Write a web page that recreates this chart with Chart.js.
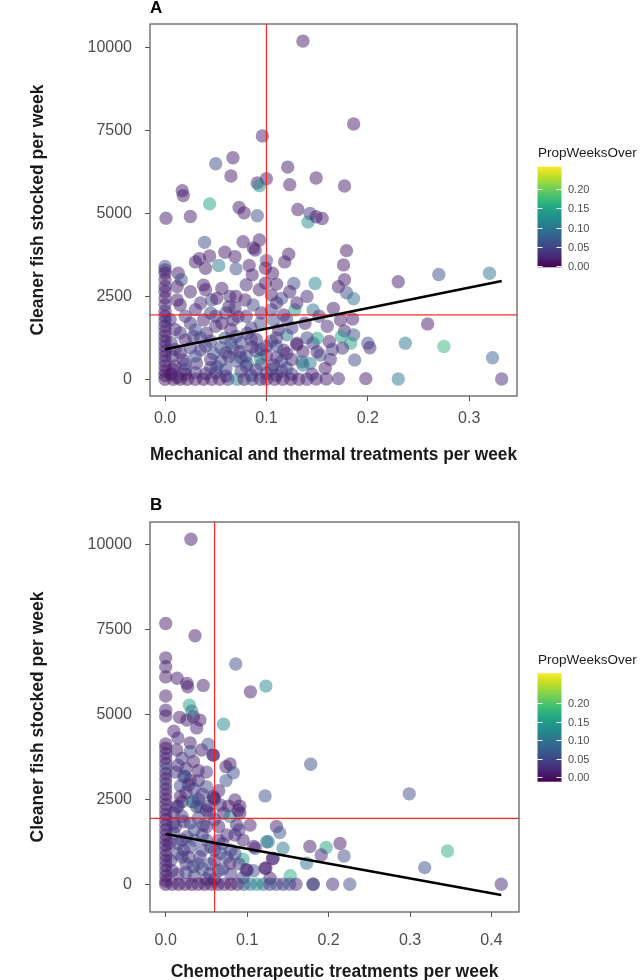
<!DOCTYPE html>
<html>
<head>
<meta charset="utf-8">
<script src="https://cdn.jsdelivr.net/npm/chart.js@4.4.1/dist/chart.umd.min.js"></script>
<style>
  html, body { margin: 0; padding: 0; background: #fff; overflow: hidden; }
  .panel { position: absolute; left: 0; width: 641px; height: 490px; }
</style>
</head>
<body>
<div class="panel" style="top:0"><canvas id="chartA" width="641" height="490"></canvas></div>
<div class="panel" style="top:490px"><canvas id="chartB" width="641" height="490"></canvas></div>
<script>
// [treatments per week, cleaner fish stocked per week, PropWeeksOver]
const mechanical = [
  [0.136, 10200, 0.02], [0.186, 7700, 0.02], [0.096, 7340, 0.02], [0.067, 6680, 0.02], [0.050, 6500, 0.06],
  [0.065, 6130, 0.02], [0.100, 6050, 0.02], [0.091, 5920, 0.02], [0.093, 5840, 0.13], [0.121, 6400, 0.02],
  [0.123, 5870, 0.02], [0.149, 6070, 0.02], [0.177, 5830, 0.02], [0.017, 5690, 0.02], [0.018, 5540, 0.02],
  [0.044, 5290, 0.15], [0.001, 4860, 0.02], [0.025, 4910, 0.02], [0.073, 5180, 0.02], [0.078, 5020, 0.02],
  [0.091, 4930, 0.06], [0.131, 5120, 0.02], [0.143, 5000, 0.04], [0.141, 4740, 0.13], [0.149, 4900, 0.02],
  [0.155, 4850, 0.02], [0.039, 4130, 0.06], [0.077, 4150, 0.02], [0.093, 4200, 0.02], [0.087, 3960, 0.02],
  [0.089, 3900, 0.02], [0.059, 3830, 0.02], [0.122, 3770, 0.02], [0.118, 3540, 0.02], [0.100, 3580, 0.05],
  [0.069, 3700, 0.02], [0.044, 3720, 0.02], [0.034, 3640, 0.02], [0.030, 3540, 0.02], [0.040, 3350, 0.02],
  [0.053, 3430, 0.11], [0.070, 3330, 0.06], [0.083, 3430, 0.02], [0.086, 3150, 0.02], [0.099, 3350, 0.02],
  [0.106, 3200, 0.02], [0.110, 2870, 0.02], [0.127, 2890, 0.06], [0.148, 2890, 0.12], [0.179, 3880, 0.02],
  [0.176, 3450, 0.02], [0.177, 3000, 0.02], [0.171, 2790, 0.02], [0.179, 2610, 0.06], [0.186, 2430, 0.10],
  [0.230, 2940, 0.02], [0.270, 3160, 0.06], [0.320, 3200, 0.10], [0.259, 1670, 0.02], [0.275, 990, 0.17],
  [0.237, 1090, 0.10], [0.200, 1090, 0.06], [0.202, 950, 0.03], [0.323, 650, 0.08], [0.332, 10, 0.03],
  [0.230, 10, 0.10], [0.198, 20, 0.02], [0.171, 20, 0.03], [0.166, 2140, 0.02], [0.173, 1790, 0.02],
  [0.185, 1820, 0.02], [0.177, 1460, 0.02], [0.186, 1340, 0.06], [0.174, 1290, 0.15], [0.183, 1090, 0.15],
  [0.175, 940, 0.03], [0.187, 580, 0.06], [0.162, 1140, 0.02], [0.146, 2090, 0.10], [0.146, 1090, 0.04],
  [0.153, 730, 0.06], [0.143, 480, 0.10], [0.158, 330, 0.02], [0.136, 430, 0.10], [0.149, 10, 0.02],
  [0.159, 10, 0.02], [0.136, 830, 0.02], [0.130, 1090, 0.02], [0.120, 780, 0.02], [0.120, 330, 0.05],
  [0.013, 3200, 0.02], [0.016, 3000, 0.06], [0.012, 2390, 0.02], [0.025, 2640, 0.02], [0.015, 2240, 0.02],
  [0.038, 2840, 0.02], [0.046, 2390, 0.06], [0.051, 2440, 0.02], [0.056, 2740, 0.02], [0.063, 2190, 0.02],
  [0.069, 2140, 0.03], [0.079, 2390, 0.02], [0.087, 2240, 0.06], [0.072, 1890, 0.03], [0.105, 2540, 0.02],
  [0.115, 2440, 0.06], [0.123, 2640, 0.02], [0.128, 2090, 0.14], [0.117, 1940, 0.02], [0.138, 1690, 0.02],
  [0.025, 1690, 0.03], [0.030, 1490, 0.06], [0.038, 1790, 0.02], [0.041, 1390, 0.03], [0.020, 1190, 0.02],
  [0.056, 1690, 0.02], [0.067, 1790, 0.03], [0.059, 1240, 0.06], [0.081, 1390, 0.03], [0.094, 1690, 0.06],
  [0.086, 980, 0.02], [0.107, 1790, 0.06], [0.112, 1490, 0.02], [0.120, 1340, 0.10], [0.130, 1040, 0.02],
  [0.117, 880, 0.02], [0.035, 880, 0.03], [0.048, 780, 0.06], [0.067, 930, 0.06], [0.074, 830, 0.02],
  [0.100, 730, 0.02], [0.018, 580, 0.02], [0.031, 480, 0.03], [0.051, 380, 0.06], [0.063, 680, 0.02],
  [0.081, 480, 0.10], [0.094, 630, 0.14], [0.107, 430, 0.02], [0.135, 530, 0.10], [0.150, 830, 0.03],
  [0.150, 1240, 0.15], [0.045, 1150, 0.04], [0.055, 950, 0.05], [0.065, 1500, 0.03], [0.075, 1100, 0.05],
  [0.085, 1550, 0.04], [0.090, 1200, 0.03], [0.095, 900, 0.05], [0.105, 1150, 0.04], [0.110, 650, 0.03],
  [0.025, 950, 0.04], [0.035, 1250, 0.05], [0.045, 600, 0.03], [0.060, 300, 0.05], [0.075, 250, 0.04],
  [0.090, 280, 0.03], [0.100, 180, 0.05], [0.115, 250, 0.04], [0.125, 600, 0.03], [0.020, 280, 0.03],
  [0.030, 200, 0.04], [0.040, 170, 0.03], [0.050, 200, 0.04], [0.070, 550, 0.06], [0.080, 700, 0.05],
  [0.110, 1000, 0.05], [0.125, 1550, 0.04], [0.140, 1250, 0.05], [0.095, 2000, 0.03], [0.060, 2000, 0.04],
  [0.030, 2100, 0.03], [0.045, 2000, 0.05], [0.105, 2100, 0.05], [0.040, 2700, 0.02], [0.064, 2500, 0.03],
  [0.093, 2700, 0.02], [0.099, 2900, 0.02], [0.080, 2850, 0.03], [0.020, 1900, 0.04], [0.010, 1500, 0.03],
  [0.010, 900, 0.03], [0.010, 400, 0.02], [0.012, 2800, 0.02], [0.130, 2300, 0.02], [0.140, 2500, 0.03],
  [0.152, 1900, 0.04], [0.160, 1600, 0.03], [0.165, 900, 0.04], [0.163, 600, 0.03], [0.145, 150, 0.03],
  [0.005, 1800, 0.03], [0.006, 1100, 0.04], [0.007, 700, 0.03], [0.008, 300, 0.02], [0.015, 1400, 0.04],
  [0.015, 800, 0.03], [0.020, 450, 0.05], [0.028, 1300, 0.04], [0.030, 700, 0.06], [0.040, 1000, 0.05],
  [0.045, 350, 0.04], [0.050, 1600, 0.03], [0.055, 550, 0.05], [0.060, 800, 0.04], [0.065, 1100, 0.06],
  [0.070, 1300, 0.04], [0.075, 650, 0.05], [0.080, 400, 0.04], [0.085, 1200, 0.05], [0.090, 850, 0.04],
  [0.095, 450, 0.06], [0.100, 1000, 0.04], [0.105, 300, 0.05], [0.110, 1250, 0.04], [0.115, 550, 0.05],
  [0.020, 150, 0.03], [0.060, 100, 0.04], [0.085, 120, 0.03], [0.110, 120, 0.04], [0.125, 150, 0.05],
  [0.035, 2300, 0.03], [0.050, 1900, 0.04], [0.080, 1900, 0.03], [0.070, 2500, 0.02], [0.110, 2300, 0.03],
  [0.120, 1800, 0.04],
  [0, 3400, 0.06], [0, 3300, 0.03], [0, 3200, 0.02], [0, 3000, 0.02], [0, 2800, 0.02],
  [0, 2650, 0.02], [0, 2450, 0.02], [0, 2250, 0.02], [0, 2050, 0.03], [0, 1900, 0.02],
  [0, 1750, 0.04], [0, 1600, 0.02], [0, 1450, 0.03], [0, 1300, 0.02], [0, 1150, 0.02],
  [0, 1000, 0.03], [0, 850, 0.02], [0, 700, 0.02], [0, 550, 0.03], [0, 400, 0.02],
  [0, 250, 0.02], [0, 120, 0.02], [0, 0, 0.01], [0.008, 0, 0.02], [0.015, 0, 0.02],
  [0.022, 0, 0.01], [0.030, 0, 0.02], [0.038, 0, 0.01], [0.046, 0, 0.02], [0.054, 0, 0.02],
  [0.062, 0, 0.03], [0.071, 0, 0.11], [0.078, 0, 0.02], [0.086, 0, 0.06], [0.094, 0, 0.02],
  [0.100, 0, 0.03], [0.108, 0, 0.02], [0.116, 0, 0.02], [0.124, 0, 0.02], [0.132, 0, 0.02],
  [0.140, 0, 0.03], [0.006, 150, 0.01], [0.012, 60, 0.02]
];

const chemotherapeutic = [
  [0.031, 10150, 0.02], [0, 7670, 0.02], [0.036, 7310, 0.02], [0, 6660, 0.02], [0, 6400, 0.02],
  [0, 6100, 0.02], [0.014, 6060, 0.02], [0.026, 5910, 0.02], [0.027, 5810, 0.02], [0.046, 5850, 0.02],
  [0.086, 6480, 0.06], [0.104, 5660, 0.02], [0.123, 5830, 0.12], [0, 5540, 0.02], [0.029, 5270, 0.15],
  [0, 5120, 0.02], [0, 4950, 0.02], [0.017, 4910, 0.02], [0.026, 4830, 0.02], [0.034, 4930, 0.02],
  [0.042, 4830, 0.02], [0.032, 5100, 0.10], [0.071, 4710, 0.12], [0, 4130, 0.02], [0.0135, 3950, 0.02],
  [0.030, 4160, 0.02], [0.044, 3950, 0.02], [0.052, 4120, 0.06], [0.058, 3800, 0.02], [0.034, 3610, 0.02],
  [0.040, 3340, 0.02], [0.022, 3170, 0.06], [0.030, 3060, 0.02], [0.050, 2870, 0.06], [0.074, 3460, 0.02],
  [0.079, 3540, 0.02], [0.083, 3280, 0.06], [0.074, 3050, 0.06], [0.178, 3530, 0.06], [0.122, 2600, 0.06],
  [0.299, 2660, 0.06], [0.059, 2530, 0.02], [0.085, 2480, 0.02], [0.077, 2300, 0.02], [0.091, 2300, 0.02],
  [0.034, 2430, 0.08], [0.042, 2280, 0.10], [0.018, 2580, 0.02], [0.0135, 2280, 0.02], [0.050, 2180, 0.02],
  [0.071, 2090, 0.02], [0.079, 1990, 0.12], [0.091, 2090, 0.02], [0.136, 1700, 0.02], [0.140, 1520, 0.07],
  [0.1035, 1740, 0.02], [0.124, 1250, 0.10], [0.144, 1060, 0.10], [0.177, 1110, 0.02], [0.197, 1080, 0.15],
  [0.214, 1200, 0.02], [0.191, 860, 0.03], [0.219, 830, 0.06], [0.173, 620, 0.10], [0.131, 760, 0.02],
  [0.123, 470, 0.02], [0.108, 1110, 0.02], [0.095, 740, 0.15], [0.100, 420, 0.02], [0.108, 400, 0.06],
  [0.128, 180, 0.02], [0.153, 250, 0.16], [0.318, 490, 0.06], [0.346, 980, 0.16], [0.412, 0, 0.03],
  [0.0094, 1790, 0.02], [0.022, 1840, 0.03], [0.046, 1740, 0.02], [0.065, 1700, 0.02], [0.087, 1740, 0.02],
  [0.026, 1400, 0.03], [0.050, 1300, 0.05], [0.075, 1450, 0.03], [0.095, 1300, 0.02], [0.126, 1250, 0.10],
  [0.022, 1010, 0.03], [0.042, 810, 0.04], [0.067, 910, 0.06], [0.079, 620, 0.02], [0.034, 520, 0.06],
  [0.054, 320, 0.03], [0.099, 420, 0.02], [0.122, 470, 0.02], [0.110, 1060, 0.03], [0.132, 760, 0.03],
  [0.038, 2280, 0.03], [0.0585, 2580, 0.02], [0.067, 2330, 0.03], [0.089, 2180, 0.02], [0.054, 2090, 0.03],
  [0.020, 2430, 0.02], [0.032, 2430, 0.10], [0.024, 3180, 0.06], [0.028, 2920, 0.02], [0.0586, 3800, 0.02],
  [0.010, 1500, 0.04], [0.015, 1200, 0.05], [0.020, 800, 0.04], [0.030, 1100, 0.05], [0.035, 1600, 0.06],
  [0.040, 1950, 0.05], [0.045, 1450, 0.04], [0.055, 1100, 0.05], [0.060, 700, 0.04], [0.065, 1300, 0.03],
  [0.070, 450, 0.05], [0.080, 1000, 0.04], [0.085, 1450, 0.03], [0.090, 600, 0.04], [0.045, 450, 0.06],
  [0.025, 600, 0.04], [0.015, 300, 0.03], [0.035, 250, 0.04], [0.060, 150, 0.05], [0.010, 2100, 0.03],
  [0.025, 2700, 0.02], [0.045, 2650, 0.04], [0.015, 3500, 0.03], [0.010, 4500, 0.02], [0.038, 4600, 0.02],
  [0.030, 3900, 0.05], [0.012, 3300, 0.04], [0.018, 2900, 0.05], [0.040, 3050, 0.03], [0.065, 2750, 0.02],
  [0.052, 2300, 0.03],
  [0.005, 1200, 0.03], [0.006, 700, 0.04], [0.008, 400, 0.03], [0.012, 1700, 0.04], [0.015, 900, 0.05],
  [0.020, 2000, 0.04], [0.020, 1300, 0.04], [0.025, 350, 0.05], [0.028, 800, 0.04], [0.030, 1800, 0.05],
  [0.035, 1300, 0.06], [0.040, 600, 0.05], [0.040, 2500, 0.04], [0.045, 1000, 0.05], [0.050, 1700, 0.04],
  [0.050, 150, 0.04], [0.055, 600, 0.05], [0.060, 1000, 0.04], [0.065, 400, 0.05], [0.070, 1200, 0.04],
  [0.075, 800, 0.05], [0.080, 300, 0.04], [0.085, 900, 0.05], [0.090, 1600, 0.04], [0.095, 200, 0.05],
  [0.015, 2300, 0.04], [0.025, 3400, 0.04], [0.035, 2800, 0.05], [0.020, 3700, 0.04], [0.050, 3300, 0.04],
  [0.060, 2500, 0.04], [0.015, 4300, 0.03], [0.060, 1900, 0.04],
  [0, 4000, 0.02], [0, 3850, 0.02], [0, 3700, 0.03], [0, 3550, 0.02],
  [0, 3400, 0.06], [0, 3250, 0.03], [0, 3100, 0.02], [0, 2950, 0.04], [0, 2800, 0.02],
  [0, 2650, 0.03], [0, 2500, 0.02], [0, 2350, 0.02], [0, 2200, 0.03], [0, 2050, 0.02],
  [0, 1900, 0.02], [0, 1750, 0.03], [0, 1600, 0.02], [0, 1450, 0.03], [0, 1300, 0.02],
  [0, 1150, 0.02], [0, 1000, 0.03], [0, 850, 0.02], [0, 700, 0.02], [0, 550, 0.03],
  [0, 400, 0.02], [0, 250, 0.02], [0, 100, 0.02], [0, 0, 0.01], [0.008, 0, 0.02],
  [0.016, 0, 0.01], [0.024, 0, 0.02], [0.032, 0, 0.01], [0.040, 0, 0.02], [0.048, 0, 0.01],
  [0.056, 0, 0.02], [0.064, 0, 0.01], [0.072, 0, 0.02], [0.080, 0, 0.01], [0.088, 0, 0.02],
  [0.096, 0, 0.06], [0.104, 0, 0.10], [0.112, 0, 0.12], [0.120, 0, 0.10], [0.128, 0, 0.04],
  [0.136, 0, 0.06], [0.144, 0, 0.04], [0.152, 0, 0.06], [0.160, 0, 0.03], [0.181, 0, 0.10],
  [0.181, 0, 0.02], [0.205, 0, 0.03], [0.226, 0, 0.06]
];

// linear fits (start and end of the black line)
const mechanicalFit = [[0, 905], [0.332, 2965]];
const chemotherapeuticFit = [[0, 1480], [0.412, -314]];

// red reference lines
const stockedRef = 1940;
const mechanicalRef = 0.1;
const chemotherapeuticRef = 0.06;

const yTicks = [0, 2500, 5000, 7500, 10000];
const mechanicalTicks = [0, 0.1, 0.2, 0.3];
const chemotherapeuticTicks = [0, 0.1, 0.2, 0.3, 0.4];
const legendTicks = [0, 0.05, 0.1, 0.15, 0.2];
const legendTitle = "PropWeeksOver";
const PROP_MAX = 0.26;

const FONT = "'Liberation Sans', Arial, sans-serif";
const viridisStops = ["#440154", "#482576", "#414487", "#35608d", "#2a788e", "#21908c",
                      "#22a884", "#43bf71", "#7ad151", "#bbdf27", "#fde725"];

function hexToRgb(h) {
    return [1, 3, 5].map((i) => parseInt(h.slice(i, i + 2), 16));
}

function viridis(t, alpha) {
    t = Math.min(1, Math.max(0, t));
    const s = t * 10;
    const i = Math.min(9, Math.floor(s));
    const f = s - i;
    const a = hexToRgb(viridisStops[i]);
    const b = hexToRgb(viridisStops[i + 1]);
    const c = a.map((v, k) => Math.round(v + (b[k] - v) * f));
    return `rgba(${c[0]},${c[1]},${c[2]},${alpha})`;
}

// grey box round the plotting area
const framePlugin = {
    id: "frame",
    afterDatasetsDraw(chart) {
        const { ctx, chartArea: a } = chart;
        ctx.save();
        ctx.strokeStyle = "#555";
        ctx.lineWidth = 1.2;
        ctx.strokeRect(a.left, a.top, a.right - a.left, a.bottom - a.top);
        ctx.restore();
    },
};

// panel letter + colour bar legend
function legendPlugin(o) {
    return {
        id: "colorbar",
        afterDraw(chart) {
            const ctx = chart.ctx;
            const cb = o.bar;
            ctx.save();
            ctx.fillStyle = "#000";
            ctx.font = `bold 17px ${FONT}`;
            ctx.textAlign = "left";
            ctx.textBaseline = "alphabetic";
            ctx.fillText(o.tag, 150, o.tagY);

            ctx.fillStyle = "#1a1a1a";
            ctx.font = `13.5px ${FONT}`;
            ctx.textBaseline = "middle";
            ctx.fillText(legendTitle, 538, cb.titleY);

            const x0 = 537.5, w = 24;
            const grad = ctx.createLinearGradient(0, cb.bottom, 0, cb.top);
            for (let i = 0; i <= 20; i++) {
                grad.addColorStop(i / 20, viridis(i / 20, 1));
            }
            ctx.fillStyle = grad;
            ctx.fillRect(x0, cb.top, w, cb.bottom - cb.top);

            const pxPer = (cb.y0 - cb.y20) / 0.2;
            ctx.strokeStyle = "#fff";
            ctx.lineWidth = 1;
            ctx.fillStyle = "#4d4d4d";
            ctx.font = `11px ${FONT}`;
            legendTicks.forEach((v) => {
                const y = Math.round(cb.y0 - v * pxPer) + 0.5;
                ctx.beginPath();
                ctx.moveTo(x0, y);
                ctx.lineTo(x0 + 5, y);
                ctx.moveTo(x0 + w - 5, y);
                ctx.lineTo(x0 + w, y);
                ctx.stroke();
                ctx.fillText(v.toFixed(2), 568, y);
            });
            ctx.restore();
        },
    };
}

function drawPanel(canvasId, o) {
    const colors = o.points.map((p) => viridis(p[2] / PROP_MAX, 0.5));
    const red = "rgba(255,20,20,0.9)";
    new Chart(document.getElementById(canvasId), {
        type: "scatter",
        data: {
            datasets: [
                {
                    type: "line",
                    data: o.fit.map((p) => ({ x: p[0], y: p[1] })),
                    borderColor: "#000",
                    borderWidth: 2.6,
                    pointRadius: 0,
                    order: 0,
                },
                {
                    type: "line",
                    data: [{ x: o.refX, y: o.yMin }, { x: o.refX, y: o.yMax }],
                    borderColor: red,
                    borderWidth: 1.2,
                    pointRadius: 0,
                    order: 1,
                },
                {
                    type: "line",
                    data: [{ x: o.xMin, y: stockedRef }, { x: o.xMax, y: stockedRef }],
                    borderColor: red,
                    borderWidth: 1.2,
                    pointRadius: 0,
                    order: 1,
                },
                {
                    data: o.points.map((p) => ({ x: p[0], y: p[1] })),
                    backgroundColor: colors,
                    borderWidth: 0,
                    pointRadius: 6.7,
                    order: 2,
                },
            ],
        },
        options: {
            responsive: false,
            animation: false,
            events: [],
            layout: { padding: { left: 0, right: o.padRight, top: o.padTop, bottom: 0 } },
            plugins: {
                legend: { display: false },
                tooltip: { enabled: false },
            },
            scales: {
                x: {
                    type: "linear",
                    min: o.xMin,
                    max: o.xMax,
                    afterBuildTicks: (s) => { s.ticks = o.xTicks.map((v) => ({ value: v })); },
                    afterFit: (s) => { s.height = o.xAxisHeight; },
                    border: { display: false },
                    grid: { drawOnChartArea: false, tickLength: 5, color: "#555" },
                    ticks: {
                        font: { family: FONT, size: 16 },
                        color: "#4d4d4d",
                        padding: o.xTickPad,
                        maxRotation: 0,
                        autoSkip: false,
                        callback: (v) => Number(v).toFixed(1),
                    },
                    title: {
                        display: true,
                        text: o.xTitle,
                        font: { family: FONT, size: 17.5, weight: "bold" },
                        color: "#1a1a1a",
                        padding: { top: 0, bottom: o.xTitlePad },
                    },
                },
                y: {
                    type: "linear",
                    min: o.yMin,
                    max: o.yMax,
                    afterBuildTicks: (s) => { s.ticks = yTicks.map((v) => ({ value: v })); },
                    afterFit: (s) => { s.width = 150; },
                    border: { display: false },
                    grid: { drawOnChartArea: false, tickLength: 5, color: "#555" },
                    ticks: {
                        font: { family: FONT, size: 16 },
                        color: "#4d4d4d",
                        padding: 13,
                        autoSkip: false,
                        callback: (v) => String(v),
                    },
                    title: {
                        display: true,
                        text: "Cleaner fish stocked per week",
                        font: { family: FONT, size: 17.5, weight: "bold" },
                        color: "#1a1a1a",
                        padding: { top: 28, bottom: 0 },
                    },
                },
            },
        },
        plugins: [framePlugin, legendPlugin(o)],
    });
}

drawPanel("chartA", {
    points: mechanical,
    fit: mechanicalFit,
    refX: mechanicalRef,
    xTicks: mechanicalTicks,
    xTitle: "Mechanical and thermal treatments per week",
    xMin: -0.0148, xMax: 0.3471,
    yMin: -504, yMax: 10715,
    padTop: 24, padRight: 124,
    xAxisHeight: 94, xTickPad: 8, xTitlePad: 24,
    tag: "A", tagY: 13,
    bar: { titleY: 153, top: 166.7, bottom: 267.3, y0: 266, y20: 189.3 },
});

drawPanel("chartB", {
    points: chemotherapeutic,
    fit: chemotherapeuticFit,
    refX: chemotherapeuticRef,
    xTicks: chemotherapeuticTicks,
    xTitle: "Chemotherapeutic treatments per week",
    xMin: -0.0193, xMax: 0.4338,
    yMin: -815, yMax: 10656,
    padTop: 32, padRight: 122,
    xAxisHeight: 68, xTickPad: 14, xTitlePad: -3,
    tag: "B", tagY: 20,
    bar: { titleY: 170.7, top: 183.3, bottom: 291.7, y0: 287, y20: 213.3 },
});
</script>
</body>
</html>
